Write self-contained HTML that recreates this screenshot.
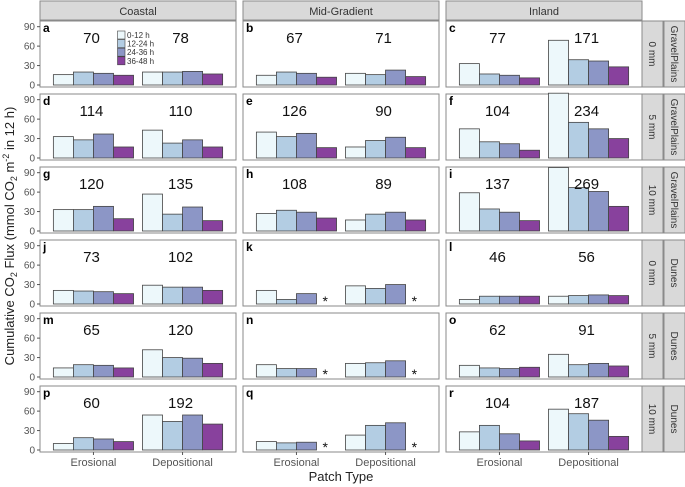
<!DOCTYPE html>
<html><head><meta charset="utf-8"><style>
html,body{margin:0;padding:0;background:#fff;}
svg{display:block;font-family:"Liberation Sans",sans-serif;}
</style></head><body>
<svg id="chart" width="685" height="487" viewBox="0 0 685 487"></svg>
<script>
const regions = ["Coastal","Mid-Gradient","Inland"];
const rowMm = ["0 mm","5 mm","10 mm","0 mm","5 mm","10 mm"];
const rowSite = ["GravelPlains","GravelPlains","GravelPlains","Dunes","Dunes","Dunes"];
const patchTypes = ["Erosional","Depositional"];
const periods = ["0-12 h","12-24 h","24-36 h","36-48 h"];
const yTicks = [0,30,60,90];
const panelLetters = ["a","b","c","d","e","f","g","h","i","j","k","l","m","n","o","p","q","r"];
const totals = [[70,78],[67,71],[77,171],[114,110],[126,90],[104,234],[120,135],[108,89],[137,269],[73,102],[null,null],[46,56],[65,120],[null,null],[62,91],[60,192],[null,null],[104,187]];
const erosional = [[16,20,18,15],[15,20,18,12],[33,17,15,11],[33,28,37,17],[40,33,38,16],[45,25,22,12],[33,33,38,19],[27,32,29,20],[59,34,29,16],[21,20,19,16],[21,7,16,null],[7,12,12,12],[14,19,18,14],[19,13,13,null],[18,14,13,15],[10,19,17,13],[13,11,12,null],[28,38,25,14]];
const depositional = [[20,20,21,17],[18,16,23,13],[69,39,37,28],[43,23,28,17],[17,27,32,16],[100,55,45,30],[57,26,37,16],[17,26,29,17],[98,67,61,38],[29,26,26,21],[28,24,30,null],[12,13,14,13],[42,30,29,21],[21,22,25,null],[35,19,21,17],[54,44,54,40],[23,38,42,null],[63,56,46,21]];
const colors = ["#edf8fb","#b3cde3","#8c96c6","#88419d"];

const NS="http://www.w3.org/2000/svg";
const svg=document.getElementById('chart');
function el(tag,attrs,parent,text){const e=document.createElementNS(NS,tag);for(const k in attrs)e.setAttribute(k,attrs[k]);if(text!=null)e.textContent=text;(parent||svg).appendChild(e);return e;}
const colX=[40,243,446], panelW=196, panelH=66, rowTop=i=>21+73*i;
const yScale=(top,v)=>top+64-v*0.648;
const xScale=(left,cat)=>left+panelW*(0.6+cat)/2.2;
const barW=panelW*0.9/2.2/4;

regions.forEach((r,c)=>{
  const g=el('g',{},svg);
  
  
  el('rect',{x:colX[c],y:1,width:panelW,height:19,fill:'#d9d9d9',stroke:'#8a8a8a','stroke-width':1},g);
  el('text',{x:colX[c]+panelW/2,y:15,'text-anchor':'middle','font-size':11,fill:'#333'},g,r);
});
rowMm.forEach((m,r)=>{
  const t=rowTop(r);
  const g=el('g',{},svg);
  
  
  el('rect',{x:642,y:t,width:21,height:panelH,fill:'#d9d9d9',stroke:'#8a8a8a'},g);
  el('rect',{x:664,y:t,width:21,height:panelH,fill:'#d9d9d9',stroke:'#8a8a8a'},g);
  el('text',{x:0,y:0,transform:`translate(649,${t+panelH/2}) rotate(90)`,'text-anchor':'middle','font-size':10,fill:'#333'},g,m);
  el('text',{x:0,y:0,transform:`translate(671,${t+panelH/2}) rotate(90)`,'text-anchor':'middle','font-size':10,fill:'#333'},g,rowSite[r]);
});
for(let r=0;r<6;r++)for(let c=0;c<3;c++){
  const i=r*3+c, L=colX[c], T=rowTop(r);
  const g=el('g',{},svg);
  
  
  el('rect',{x:L,y:T,width:panelW,height:panelH,fill:'#fff',stroke:'#8a8a8a'},g);
  el('text',{x:L+3,y:T+11,'font-size':12,'font-weight':'bold',fill:'#000'},g,panelLetters[i]);
  [erosional[i],depositional[i]].forEach((vals,cat)=>{
    const cx=xScale(L,cat), start=cx-2*barW;
    vals.forEach((v,k)=>{
      const x=start+k*barW;
      if(v==null){
        const s=el('text',{x:x+barW/2-4,y:yScale(T,0)+2,'font-size':14,fill:'#111'},g,'*');
        
        
        return;
      }
      const b=el('rect',{x:x,y:yScale(T,v),width:barW,height:yScale(T,0)-yScale(T,v),fill:colors[k],stroke:'#444','stroke-width':0.8},g);
      
      
    });
    if(totals[i][cat]!=null){
      const tt=el('text',{x:cx-2,y:T+22,'text-anchor':'middle','font-size':15,fill:'#111'},g,String(totals[i][cat]));
      
      
    }
  });
  if(c===0){
    yTicks.forEach(v=>{
      const y=yScale(T,v);
      el('line',{x1:37,x2:40,y1:y,y2:y,stroke:'#555'},g);
      el('text',{x:35,y:y+3.5,'text-anchor':'end','font-size':10,fill:'#555'},g,String(v));
    });
  }
  if(r===5){
    patchTypes.forEach((p,cat)=>{
      const x=xScale(L,cat);
      el('line',{x1:x,x2:x,y1:T+panelH,y2:T+panelH+3,stroke:'#555'},g);
      el('text',{x:x,y:466,'text-anchor':'middle','font-size':11,fill:'#555'},g,p);
    });
  }
}
const lg=el('g',{},svg);


periods.forEach((p,k)=>{
  const y=31+k*8.6;
  const e=el('g',{},lg);
  
  
  el('rect',{x:117.5,y:y,width:7.5,height:8,fill:colors[k],stroke:'#444','stroke-width':0.6},e);
  el('text',{x:127,y:y+7,'font-size':8,fill:'#333'},e,p);
});
const xt=el('text',{x:341,y:481,'text-anchor':'middle','font-size':13,fill:'#222'},svg,'Patch Type');


const yt=el('text',{x:0,y:0,transform:'translate(14,236) rotate(-90)','text-anchor':'middle','font-size':13,fill:'#222'},svg);


yt.innerHTML='Cumulative CO<tspan font-size="9" dy="3">2</tspan><tspan dy="-3"> Flux (mmol CO</tspan><tspan font-size="9" dy="3">2</tspan><tspan dy="-3"> m</tspan><tspan font-size="9" dy="-5">-2</tspan><tspan dy="5"> in 12 h)</tspan>';
</script>
</body></html>
